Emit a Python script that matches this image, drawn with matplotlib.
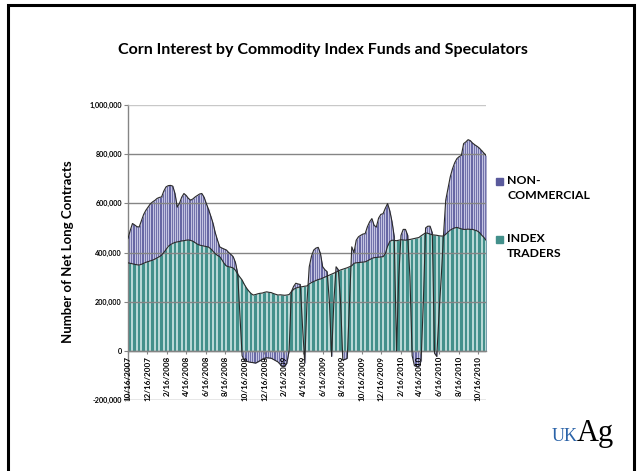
import numpy as np
import pandas as pd
import matplotlib
matplotlib.use("Agg")
import matplotlib.pyplot as plt
from matplotlib.patches import Rectangle

# Weekly report dates (Tuesdays)
weeks = pd.date_range("2007-10-16", periods=161, freq="7D")

# Net long contracts, thousands
index_traders = [
    358, 356, 354, 352, 350, 349, 352, 356, 360, 363,
    366, 369, 373, 378, 383, 389, 400, 412, 425, 432,
    437, 441, 443, 445, 447, 448, 450, 451, 449, 446,
    440, 434, 430, 428, 426, 424, 422, 415, 405, 395,
    388, 383, 370, 355, 345, 342, 340, 337, 328, 312,
    300, 288, 270, 255, 243, 233, 227, 229, 232, 234,
    235, 238, 240, 238, 237, 233, 230, 227, 228, 227,
    226, 227, 229, 240, 250, 255, 258, 260, 261, 263,
    264, 272, 278, 282, 286, 290, 292, 296, 300, 304,
    308, 312, 316, 320, 325, 329, 332, 335, 338, 342,
    346, 356, 358, 359, 360, 361, 362, 366, 371, 376,
    379, 380, 381, 382, 383, 395, 425, 445, 450, 449,
    448, 450, 452, 451, 450, 452, 453, 455, 457, 459,
    461, 468, 474, 480, 478, 475, 472, 471, 470, 468,
    467, 467, 474, 483, 491, 496, 500, 502, 499, 496,
    494, 494, 495, 494, 494, 491, 488, 482, 471, 462,
    450,
]

non_commercial = [
    457, 490, 518, 512, 505, 504, 530, 555, 572, 585,
    598, 606, 612, 620, 624, 626, 650, 667, 672, 673,
    670, 640, 585, 600, 625, 640, 632, 620, 613, 618,
    626, 632, 638, 640, 625, 599, 575, 548, 519, 480,
    450, 423, 418, 414, 410, 400, 392, 383, 360, 316,
    150, -20, -40, -42, -45, -47, -48, -50, -45, -40,
    -35, -30, -28, -29, -30, -35, -40, -45, -55, -62,
    -64, -50, 0, 240, 262, 275, 272, 270, 100, -50,
    200, 342, 385, 410, 418, 421, 396, 342, 330, 322,
    200, -23, 200, 342, 330, 200, -37, -35, -30, 200,
    423, 400, 450, 464, 470, 475, 477, 505, 525, 538,
    510, 504, 540, 555, 558, 580, 599, 570, 525, 464,
    0, 300, 470, 494, 494, 470, 300, -20, -60, -64,
    -64, -40, 200, 500, 507, 507, 480, -10, -23, 150,
    300, 470, 613, 660, 707, 740, 765, 782, 790, 795,
    843, 850, 859, 855, 845, 838, 832, 825, 815, 805,
    795,
]

date_labels = [
    "10/16/2007", "12/16/2007", "2/16/2008", "4/16/2008", "6/16/2008",
    "8/16/2008", "10/16/2008", "12/16/2008", "2/16/2009", "4/16/2009",
    "6/16/2009", "8/16/2009", "10/16/2009", "12/16/2009", "2/16/2010",
    "4/16/2010", "6/16/2010", "8/16/2010", "10/16/2010",
]

y_ticks = [-200000, 0, 200000, 400000, 600000, 800000, 1000000]
y_tick_labels = ["-200,000", "0", "200,000", "400,000", "600,000",
                 "800,000", "1,000,000"]

series_names = ["NON-\nCOMMERCIAL", "INDEX\nTRADERS"]

PURPLE = "#5a5a9c"
PURPLE_LIGHT = "#c4c4e2"
TEAL = "#43908b"
TEAL_LIGHT = "#dcefed"
GRID = "#858585"

W, H = 637, 471
fig = plt.figure(figsize=(W / 100, H / 100), dpi=100)


def fx(px):
    return px / W


def fy(py):
    return 1 - py / H


ax = fig.add_axes([fx(128), fy(400), fx(486) - fx(128), fy(105) - fy(400)])

nc = np.array(non_commercial) * 1000.0
it = np.array(index_traders) * 1000.0
x = weeks

# Non-commercial area (behind)
ax.fill_between(x, 0, nc, color=PURPLE, lw=0, zorder=1)
ax.vlines(x, 0, nc, colors=PURPLE_LIGHT, lw=0.9, zorder=1.1)

# Index traders area (front)
ax.fill_between(x, 0, it, color=TEAL, lw=0, zorder=2)
ax.vlines(x[::2], 0, it[::2], colors=TEAL_LIGHT, lw=1.1, zorder=2.1)

# Series outlines
ax.plot(x, nc, color="#2a2a2a", lw=0.8, zorder=3)
ax.plot(x, it, color="#2a2a2a", lw=0.8, zorder=3)

ax.set_xlim(weeks[0], weeks[-1])
ax.set_ylim(-200000, 1000000)

ax.set_axisbelow(False)
ax.set_yticks(y_ticks)
ax.set_yticklabels(y_tick_labels)
ax.yaxis.grid(True, color=GRID, lw=1.0)
ax.get_ygridlines()[-1].set_color("#c8c8c8")

ax.set_xticks(pd.to_datetime(date_labels, format="%m/%d/%Y"))
ax.set_xticklabels(date_labels)

for side in ("top", "right"):
    ax.spines[side].set_visible(False)
ax.spines["left"].set_color(GRID)
ax.spines["left"].set_linewidth(1.0)
ax.spines["bottom"].set_position(("data", 0))
ax.spines["bottom"].set_color(GRID)
ax.spines["bottom"].set_linewidth(1.0)

ax.tick_params(axis="y", length=3, width=0.8, color=GRID, pad=1.5,
               labelsize=5.2)
ax.tick_params(axis="x", length=2, width=0.8, color=GRID, pad=1.5,
               labelsize=5.8, labelrotation=90)
for lab in ax.get_yticklabels() + ax.get_xticklabels():
    lab.set_fontfamily("Lato")
    lab.set_fontweight("bold")

# Title and axis label
fig.text(fx(323), fy(50), "Corn Interest by Commodity Index Funds and Speculators",
         ha="center", va="center", family="Lato", weight="bold", size=11.5)
fig.text(fx(68), fy(252), "Number of Net Long Contracts", rotation=90,
         ha="center", va="center", family="Lato", weight="bold", size=9.5)

# Legend
for (name, col, ytop) in [(series_names[0], PURPLE, 181),
                          (series_names[1], TEAL, 239)]:
    fig.patches.append(Rectangle((fx(496), fy(ytop + 4)), fx(7), 7 / H,
                                 transform=fig.transFigure, color=col))
    fig.text(fx(507), fy(ytop - 6), name, ha="left", va="top",
             family="Lato", weight="bold", size=8.8, linespacing=1.45)

# Logo
fig.text(fx(552), fy(441), "UK", ha="left", va="baseline",
         family="Liberation Serif", color="#2b63a8", size=13)
fig.text(fx(577), fy(441), "Ag", ha="left", va="baseline",
         family="Liberation Serif", color="black", size=22)

# Slide frame
fig.patches.append(Rectangle((fx(7.5), -0.05), fx(634) - fx(7.5), fy(5) + 0.05,
                             transform=fig.transFigure, fill=False,
                             ec="black", lw=2.2))

fig.savefig("out.png", dpi=100)
